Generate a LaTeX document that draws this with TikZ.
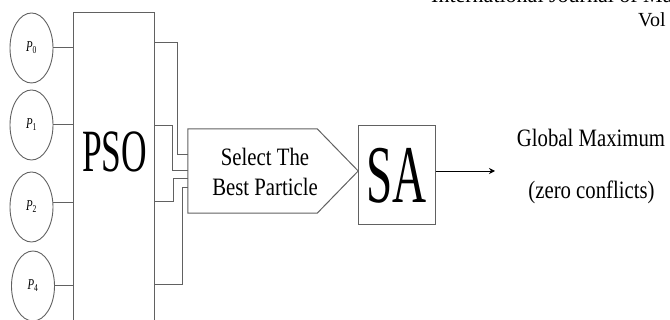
\documentclass[tikz,border=0pt]{standalone}
\usepackage{fontspec}
\setmainfont{Liberation Serif}
\usetikzlibrary{arrows.meta,shapes.geometric}
\newcommand{\hsq}[2]{\scalebox{#1}[1]{#2}}
\newcommand{\plab}[1]{\hsq{0.72}{\fontsize{15}{15}\selectfont\textit{P}\textsubscript{#1}}}
\begin{document}
\begin{tikzpicture}[x=1pt,y=-1pt,
  line/.style={draw=black!62, line width=1pt},
  pnode/.style={ellipse, draw=black!62, line width=0.9pt, minimum width=43pt, minimum height=70pt, inner sep=0pt},
  boxnode/.style={rectangle, draw=black!62, line width=1pt, inner sep=0pt},
  smalltext/.style={font=\fontsize{25}{30}\selectfont, inner sep=0pt},
  headtext/.style={font=\fontsize{20}{24}\selectfont, inner sep=0pt, anchor=base west},
  arrowline/.style={draw=black, line width=0.9pt, -{Stealth[length=6pt,width=6pt]}}]
\useasboundingbox (0,0) rectangle (670,320);
\clip (0,0) rectangle (670,320);

% header
\node[headtext, font=\fontsize{22}{24}\selectfont] (head1) at (431,2.5) {International Journal of Mathematics};
\node[headtext] (head2) at (638,27) {Vol};

% particles
\node[pnode] (p0) at (31.5,48) {\plab{0}};
\node[pnode] (p1) at (31.5,125) {\plab{1}};
\node[pnode] (p2) at (31.5,207) {\plab{2}};
\node[pnode] (p4) at (33,286) {\plab{4}};

% PSO block
\node[boxnode, minimum width=81pt, minimum height=320pt] (pso) at (113.5,173) {};
\node[anchor=base, inner sep=0pt] (psolab) at (114.5,172) {\hsq{0.59}{\fontsize{60}{60}\selectfont PSO}};

\draw[line] (p0.east) -- (p0.east -| pso.west);
\draw[line] (p1.east) -- (p1.east -| pso.west);
\draw[line] (p2.12) -- (p2.12 -| pso.west);
\draw[line] (p4.east) -- (p4.east -| pso.west);

% select block
\node[inner sep=0pt, minimum width=129pt, minimum height=84pt] (sel) at (252.5,171) {};
\draw[line] (sel.north west) -- (sel.north east) -- ([xshift=41pt]sel.east) -- (sel.south east) -- (sel.south west) -- cycle;
\node[smalltext, align=center] (seltxt) at (265,172) {\hsq{0.83}{Select The}\\\hsq{0.83}{Best Particle}};

% PSO outputs
\coordinate (o1) at (154,43);
\coordinate (o2) at (154,126);
\coordinate (o3) at (154,202);
\coordinate (o4) at (154,285);
\coordinate (i1) at (188,155);
\coordinate (i2) at (188,171);
\coordinate (i3) at (188,179);
\coordinate (i4) at (188,188);
\draw[line] (o1) -| ([xshift=-11pt]i1) -- (i1);
\draw[line] (o2) -| ([xshift=-16pt]i2) -- (i2);
\draw[line] (o3) -| ([xshift=-15pt]i3) -- (i3);
\draw[line] (o4) -| ([xshift=-5.5pt]i4) -- (i4);

% SA block
\node[boxnode, minimum width=77pt, minimum height=99pt] (sa) at (396.5,175.5) {\hsq{0.575}{\fontsize{82}{82}\selectfont SA}};
\coordinate (out) at (495,171);
\draw[arrowline] ([yshift=4.5pt]sa.east) -- (out);

% result
\node[smalltext, anchor=base] (gm) at (591,147) {\hsq{0.83}{Global Maximum}};
\node[smalltext, anchor=base] (zc) at (591.5,198.5) {\hsq{0.83}{(zero conflicts)}};
\end{tikzpicture}
\end{document}
